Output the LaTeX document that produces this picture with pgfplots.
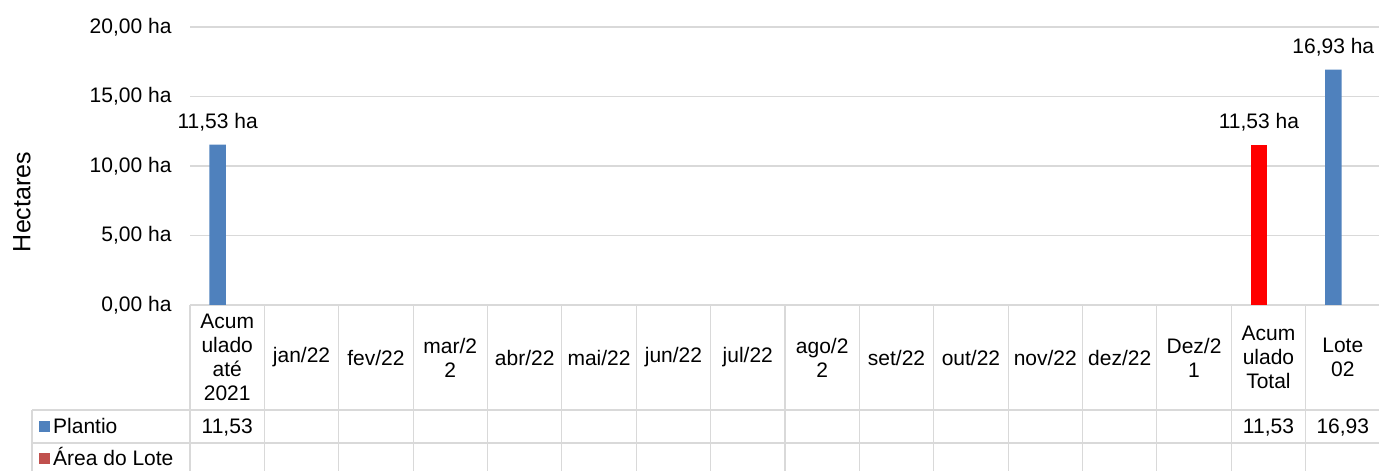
\documentclass[border=0pt]{standalone}
\usepackage{pgfplots}
\pgfplotsset{compat=1.18}
\usepackage{fontspec}
\setmainfont{Liberation Sans}
\definecolor{xblue}{HTML}{4F81BD}
\definecolor{xred}{HTML}{FF0000}
\definecolor{lred}{HTML}{C0504D}
\definecolor{gridc}{HTML}{D9D9D9}
\newcommand{\tf}{\fontsize{21}{24}\selectfont}
\begin{document}
\begin{tikzpicture}[x=1pt,y=1pt]
\useasboundingbox (0,0) rectangle (1379,471);
\begin{axis}[
  at={(190pt,166pt)}, anchor=south west,
  scale only axis, width=1190pt, height=278pt,
  xmin=-0.5, xmax=15.5, ymin=0, ymax=20,
  ytick={0,5,10,15,20},
  xtick=\empty,
  ymajorgrids, grid style={gridc, line width=1.2pt},
  axis line style={draw=none},
  major tick length=0pt,
  ybar, bar width=16.5pt,
  /pgf/number format/assume math mode=true,
  yticklabel={\pgfmathprintnumber[fixed,fixed zerofill,precision=2,use comma]{\tick}~ha},
  yticklabel style={font=\tf, xshift=-15pt},
  clip=false,
  nodes near coords={\pgfmathprintnumber[fixed,fixed zerofill,precision=2,use comma]{\pgfplotspointmeta}~ha},
  every node near coord/.append style={font=\tf, yshift=10pt, text=black},
]
\addplot[fill=xblue, draw=none, bar shift=-9.5pt] coordinates {(0,11.53) (15,16.93)};
\addplot[fill=xred, draw=none, bar shift=-9.5pt] coordinates {(14,11.53)};
\end{axis}
% data table grid
\begin{scope}[gridc, line width=1.2pt]
\foreach \k in {0,...,16} {
  \draw (190+74.375*\k,166) -- (190+74.375*\k,0);
}
\draw (32,61) -- (1380,61);
\draw (32,28) -- (1380,28);
\draw (32,61) -- (32,0);
\end{scope}
% header labels
\foreach \k/\t in {0/{Acum\\ulado\\até\\2021},1/{jan/22},2/{fev/22},3/{mar/2\\2},4/{abr/22},5/{mai/22},6/{jun/22},7/{jul/22},8/{ago/2\\2},9/{set/22},10/{out/22},11/{nov/22},12/{dez/22},13/{Dez/2\\1},14/{Acum\\ulado\\Total},15/{Lote\\02}} {
  \node[font=\tf, align=center, inner sep=0pt] at (190+74.375*\k+37.19,113.5) {\t};
}
% values row
\foreach \k/\t in {0/{11,53},14/{11,53},15/{16,93}} {
  \node[font=\tf, anchor=base, inner sep=0pt] at (190+74.375*\k+37.19,37) {\t};
}
% legend keys
\fill[xblue] (39,39) rectangle (49.5,49.5);
\node[font=\tf, anchor=base west, inner sep=0pt] at (53,37) {Plantio};
\fill[lred] (39,7) rectangle (49.5,17.5);
\node[font=\tf, anchor=base west, inner sep=0pt] at (53,5) {Área do Lote};
% y label
\node[font=\fontsize{25}{30}\selectfont, rotate=90] at (22,269) {Hectares};
\end{tikzpicture}
\end{document}
